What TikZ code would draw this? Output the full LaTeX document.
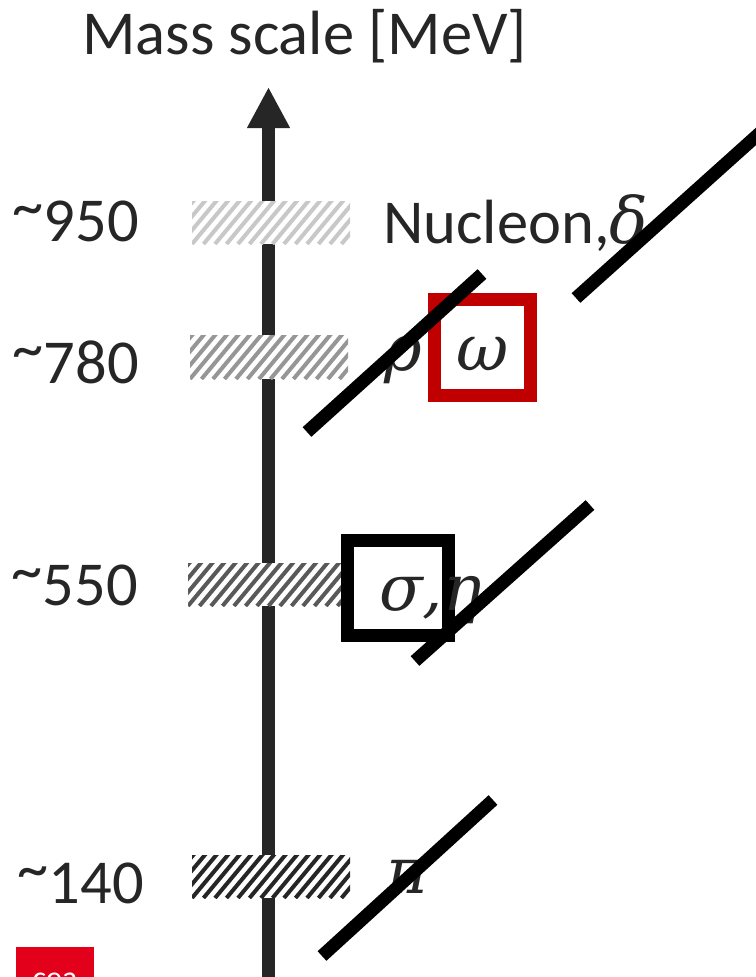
\documentclass[tikz,border=0pt]{standalone}
\usepackage{fontspec}
\setmainfont{Carlito}
\newfontfamily\grkfont{DejaVu Serif}
\newcommand{\grk}[1]{{\grkfont\itshape\fontsize{64}{74}\selectfont #1}}
\newcommand{\approxmark}{\raisebox{0.22em}{\textasciitilde}}
\usetikzlibrary{arrows.meta}
\definecolor{ink}{HTML}{262626}
\definecolor{boxred}{HTML}{C00000}
\definecolor{ceared}{HTML}{E2001A}
\definecolor{hatchA}{HTML}{C8C8C8}
\definecolor{hatchB}{HTML}{969696}
\definecolor{hatchC}{HTML}{595959}
\definecolor{hatchD}{HTML}{262626}
\tikzset{
  big/.style={font=\fontsize{62.5}{74}\selectfont, text=ink, inner sep=0pt},
  hatchbox/.style={rectangle, inner sep=0pt, minimum width=158pt,
    minimum height=43pt, fill=white,
    path picture={
      \foreach \k in {-5,...,15}{
        \draw[line width=4pt, #1]
          ([xshift=\k*11.5pt]path picture bounding box.south west) -- ++(50,-60);
      }}},
  slash/.style={line width=13pt, black, line cap=butt},
  frame/.style={rectangle, line width=13pt, inner sep=0pt},
}
\begin{document}
\begin{tikzpicture}[x=1pt, y=-1pt]
\useasboundingbox (0,0) rectangle (755,977);

% title
\node[big, anchor=base] (title) at (304.5,54) {Mass scale [MeV]};

% mass axis
\coordinate (axisbot) at (268.5,995);
\coordinate (axistop) at (268.5,87);
\draw[ink, line width=12.5pt, -{Triangle[length=41pt,width=40pt]}] (axisbot) -- (axistop);

% hatched mass bands
\node[hatchbox=hatchA] (b950) at (271,222.5) {};
\node[hatchbox=hatchB, minimum height=44pt] (b780) at (269,357) {};
\node[hatchbox=hatchC] (b550) at (267,584.5) {};
\node[hatchbox=hatchD] (b140) at (271,876.5) {};

% mass values
\node[big, anchor=base east] (m950) at (139,241) {\approxmark950};
\node[big, anchor=base east] (m780) at (139,383) {\approxmark780};
\node[big, anchor=base east] (m550) at (138,605) {\approxmark550};
\node[big, anchor=base east] (m140) at (144,903) {\approxmark140};

% particles
\node[big, anchor=base west] (nucleon) at (383,243) {Nucleon,\grk{δ}};
\node[big, anchor=base west] (rho) at (384,370) {\grk{ρ}};
\node[frame, draw=boxred, minimum width=96pt, minimum height=96pt] (omegabox) at (482.5,347.5) {};
\node[big, anchor=base] (omega) at (482.5,370) {\grk{ω}};
\node[frame, draw=black, minimum width=101pt, minimum height=95pt] (sigmabox) at (398,588) {};
\node[big, anchor=base west] (sigma) at (379,610) {\grk{σ,η}};
\node[big, anchor=base west] (pi) at (386,893) {\grk{π}};

% strike-through bars
\coordinate (s1a) at (576,298);  \coordinate (s1b) at (762,131);
\coordinate (s2a) at (307,432);  \coordinate (s2b) at (482,274);
\coordinate (s3a) at (415,661);  \coordinate (s3b) at (590,505);
\coordinate (s4a) at (322,956);  \coordinate (s4b) at (493,800);
\draw[slash] (s1a) -- (s1b);
\draw[slash] (s2a) -- (s2b);
\draw[slash] (s3a) -- (s3b);
\draw[slash] (s4a) -- (s4b);

% logo corner
\node[rectangle, fill=ceared, minimum width=78pt, minimum height=45pt, inner sep=0pt, anchor=north west] (logo) at (16,947) {};
\node[font=\fontsize{32}{38}\selectfont, text=white, anchor=base, inner sep=0pt] (logotext) at (55,988) {cea};
\end{tikzpicture}
\end{document}
